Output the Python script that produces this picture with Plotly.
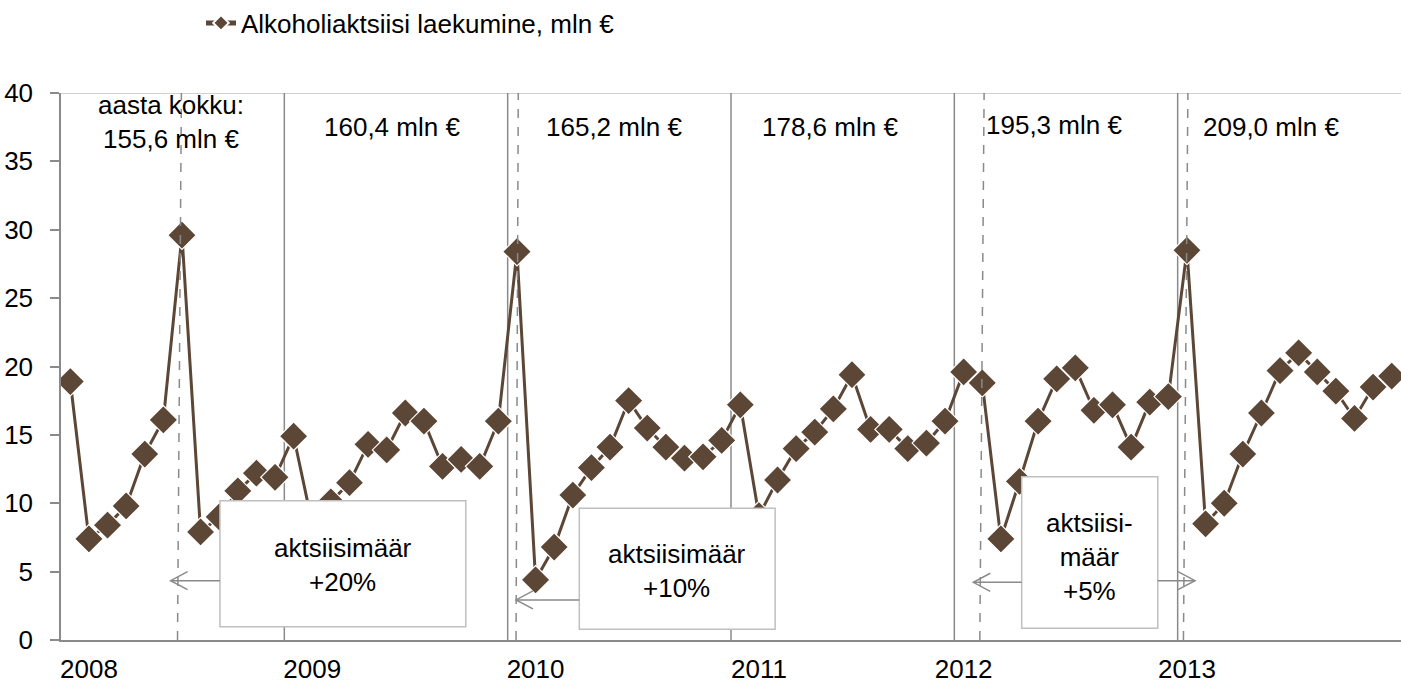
import plotly.graph_objects as go

# ---- data (mln €, monthly) ----
years = [2008, 2009, 2010, 2011, 2012, 2013]
v2008 = [18.9, 7.4, 8.4, 9.8, 13.6, 16.1, 29.6, 7.9, 9.0, 10.9, 12.2, 11.9]
v2009 = [14.9, 8.5, 10.1, 11.5, 14.3, 13.9, 16.6, 16.0, 12.7, 13.2, 12.7, 16.0]
v2010 = [28.4, 4.4, 6.8, 10.6, 12.6, 14.1, 17.5, 15.5, 14.1, 13.3, 13.4, 14.6]
v2011 = [17.2, 9.1, 11.7, 14.0, 15.2, 16.9, 19.4, 15.4, 15.4, 14.0, 14.4, 16.0]
v2012 = [19.6, 18.8, 7.4, 11.6, 16.0, 19.1, 19.9, 16.8, 17.2, 14.1, 17.4, 17.8]
v2013 = [28.5, 8.5, 10.0, 13.6, 16.6, 19.7, 21.0, 19.6, 18.2, 16.2, 18.5, 19.3]
year_totals = ["aasta kokku:<br>155,6 mln €", "160,4 mln €", "165,2 mln €",
               "178,6 mln €", "195,3 mln €", "209,0 mln €"]
tick_months = ["2008-02", "2009-02", "2010-02", "2011-02", "2012-01", "2013-01"]
tick_labels = ["2008", "2009", "2010", "2011", "2012", "2013"]
series_name = "Alkoholiaktsiisi laekumine, mln €"

months = [f"{y}-{m:02d}" for y in years for m in range(1, 13)]
values = v2008 + v2009 + v2010 + v2011 + v2012 + v2013

BROWN = "#5C4636"
GRAY = "#8A8A8A"
FONT = "Arial, Liberation Sans, sans-serif"
FS = 26

fig = go.Figure()
fig.add_trace(go.Scatter(
    x=months, y=values, mode="lines+markers", name=series_name,
    line=dict(color=BROWN, width=3),
    marker=dict(symbol="diamond", size=22, color=BROWN,
                line=dict(color="white", width=1.2)),
))

shapes = []
# top border of plot area
shapes.append(dict(type="line", xref="paper", yref="y", x0=0, x1=1, y0=40, y1=40,
                   line=dict(color="#C0C0C0", width=1.5), layer="below"))
# year boundary lines
for k in range(1, 6):
    xb = 12 * k - 0.5
    shapes.append(dict(type="line", xref="x", yref="y", x0=xb, x1=xb, y0=0, y1=40,
                       line=dict(color=GRAY, width=1.5), layer="below"))
# dashed (excise change) lines: (bottom x, top x)
dashed = [(5.76, 5.97), (23.95, 24.07), (48.87, 49.10), (59.81, 60.05)]
for xb, xt in dashed:
    shapes.append(dict(type="line", xref="x", yref="y", x0=xb, x1=xt, y0=0, y1=40,
                       line=dict(color=GRAY, width=1.5, dash="dash"), layer="above"))

# annotation boxes
boxes = [(8.04, 21.25, 0.97, 10.19), (27.35, 37.87, 0.78, 9.63), (51.12, 58.43, 0.86, 11.94)]
for x0, x1, y0, y1 in boxes:
    shapes.append(dict(type="rect", xref="x", yref="y", x0=x0, x1=x1, y0=y0, y1=y1,
                       fillcolor="white", line=dict(color="#BFBFBF", width=1.5),
                       layer="above"))

# arrows: (from x, tip x, y)
arrows = [(8.04, 5.39, 4.34), (27.35, 23.95, 2.93), (51.12, 48.52, 4.22), (58.43, 60.43, 4.34)]
ax_len, ay_len = 0.91, 0.66
for xs, xt, ya in arrows:
    d = 1 if xs > xt else -1
    shapes.append(dict(type="line", xref="x", yref="y", x0=xs, x1=xt, y0=ya, y1=ya,
                       line=dict(color=GRAY, width=1.5), layer="above"))
    path = (f"M {xt + d*ax_len},{ya + ay_len} L {xt},{ya} L {xt + d*ax_len},{ya - ay_len}")
    shapes.append(dict(type="path", xref="x", yref="y", path=path,
                       line=dict(color=GRAY, width=1.5), layer="above"))

annotations = []
total_pos = [(5.41, 37.9), (17.27, 37.54), (29.2, 37.54), (40.8, 37.54), (52.86, 37.66), (64.5, 37.54)]
for txt, (xa, ya) in zip(year_totals, total_pos):
    annotations.append(dict(x=xa, y=ya, xref="x", yref="y", text=txt, showarrow=False,
                            font=dict(family=FONT, size=FS, color="black"),
                            xanchor="center", yanchor="middle"))
box_texts = [("aktsiisimäär<br>+20%", 14.65, 5.48),
             ("aktsiisimäär<br>+10%", 32.6, 5.06),
             ("aktsiisi-<br>määr<br>+5%", 54.78, 6.09)]
for txt, xa, ya in box_texts:
    annotations.append(dict(x=xa, y=ya, xref="x", yref="y", text=txt, showarrow=False,
                            font=dict(family=FONT, size=FS, color="black"),
                            xanchor="center", yanchor="middle"))

fig.update_layout(
    width=1401, height=684,
    margin=dict(l=61, r=0, t=93, b=44, autoexpand=False),
    paper_bgcolor="white", plot_bgcolor="white",
    font=dict(family=FONT, size=FS, color="black"),
    showlegend=True,
    legend=dict(xref="container", yref="container", x=201/1401, y=1 - 23/684,
                xanchor="left", yanchor="middle", orientation="h",
                font=dict(family=FONT, size=FS, color="black"),
                itemsizing="constant", bgcolor="rgba(0,0,0,0)"),
    xaxis=dict(type="category", range=[-0.5, 71.5], showgrid=False, zeroline=False,
               automargin=False, ticklabelstandoff=5,
               showline=True, linecolor=GRAY, linewidth=1.5,
               tickmode="array", tickvals=tick_months, ticktext=tick_labels,
               ticks="", tickfont=dict(family=FONT, size=FS, color="black")),
    yaxis=dict(range=[0, 40], tickvals=[0, 5, 10, 15, 20, 25, 30, 35, 40],
               automargin=False, ticklabelstandoff=12,
               showgrid=False, zeroline=False, showline=True, linecolor=GRAY,
               linewidth=1.5, ticks="outside", ticklen=9, tickcolor=GRAY, tickwidth=1.5,
               tickfont=dict(family=FONT, size=FS, color="black")),
    shapes=shapes, annotations=annotations,
)

fig.write_html("out.html",
               config={"displayModeBar": False},
               post_script="document.body.style.margin='0';"
                           "document.body.style.overflow='hidden';")
